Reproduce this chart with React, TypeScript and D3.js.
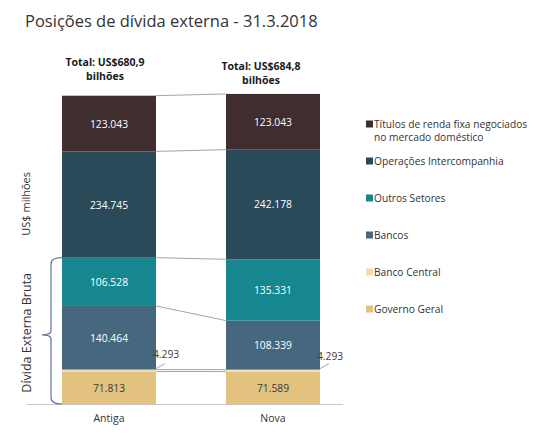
import React from "react";
import * as d3 from "d3";

const categories = ["Antiga", "Nova"];
const seriesNames = [
  "Governo Geral",
  "Banco Central",
  "Bancos",
  "Outros Setores",
  "Operações Intercompanhia",
  "Títulos de renda fixa negociados no mercado doméstico",
];
const governoGeral = [71813, 71589];
const bancoCentral = [4293, 4293];
const bancos = [140464, 108339];
const outrosSetores = [106528, 135331];
const operacoes = [234745, 242178];
const titulos = [123043, 123043];
const seriesColors = ["#e2c27e", "#f5dca8", "#47677f", "#17878f", "#2a4a5a", "#3f2d30"];
const labelColors = ["#3a3a3a", "#404040", "#ffffff", "#ffffff", "#ffffff", "#ffffff"];
const legendOrder = [5, 4, 3, 2, 1, 0];
const legendLines: string[][] = [
  ["Governo Geral"],
  ["Banco Central"],
  ["Bancos"],
  ["Outros Setores"],
  ["Operações Intercompanhia"],
  ["Títulos de renda fixa negociados", "no mercado doméstico"],
];

const FONT = "'Open Sans', sans-serif";

export default function App() {
  const seriesValues = [governoGeral, bancoCentral, bancos, outrosSetores, operacoes, titulos];
  const rows = categories.map((c, i) => {
    const r: any = { cat: c };
    seriesNames.forEach((s, k) => (r[s] = seriesValues[k][i]));
    return r;
  });
  const stack = d3.stack<any>().keys(seriesNames)(rows);

  const x = d3.scaleBand().domain(categories).range([24, 358]).paddingInner(0.427).paddingOuter(0.2318);
  const y = d3.scaleLinear().domain([0, 700000]).range([404, 87.04]);
  const bw = x.bandwidth();
  const fmt = (v: number) => d3.format(",")(v).replace(/,/g, ".");
  const fmtTotal = (v: number) => d3.format(".1f")(v / 1000).replace(".", ",");

  const x0 = x(categories[0])!;
  const x1 = x(categories[1])!;

  const braceTop = y(stack[3][0][1]);
  const braceBot = y(0);
  const braceMid = (braceTop + braceBot) / 2 + 4;
  const bx = 51;
  const bracePath = `M${x0},${braceTop} Q${bx},${braceTop} ${bx},${braceTop + 6} L${bx},${braceMid - 4} Q${bx},${braceMid} ${bx - 9},${braceMid} Q${bx},${braceMid} ${bx},${braceMid + 4} L${bx},${braceBot - 6} Q${bx},${braceBot} ${x0},${braceBot}`;

  return (
    <svg width={546} height={435} style={{ position: "absolute", left: 0, top: 0, background: "#fff" }}>
      <text x={25} y={27} fontFamily={FONT} fontSize={16.5} fill="#333">
        Posições de dívida externa - 31.3.2018
      </text>

      {stack.map((s, k) => (
        <line
          key={"c" + k}
          x1={x0 + bw}
          x2={x1}
          y1={y(s[0][1])}
          y2={y(s[1][1])}
          stroke="#a6a6a6"
          strokeWidth={1}
        />
      ))}

      {stack.map((s, k) =>
        s.map((d, i) => (
          <rect
            key={k + "-" + i}
            x={x(categories[i])}
            width={bw}
            y={y(d[1])}
            height={y(d[0]) - y(d[1])}
            fill={seriesColors[k]}
          />
        ))
      )}

      {stack.map((s, k) =>
        s.map((d, i) => {
          const v = d[1] - d[0];
          if (k === 1) {
            const lx = x(categories[i])! + bw;
            const ly = y(d[1]);
            return (
              <g key={"l" + k + i}>
                <line x1={lx} y1={ly - 1} x2={lx + 9} y2={ly - 6} stroke="#a6a6a6" />
                <text x={lx - 3} y={ly - 12 + i * 2} fontFamily={FONT} fontSize={10.3} fill="#404040">
                  {fmt(v)}
                </text>
              </g>
            );
          }
          return (
            <text
              key={"l" + k + i}
              x={x(categories[i])! + bw / 2}
              y={(y(d[0]) + y(d[1])) / 2 + 4}
              textAnchor="middle"
              fontFamily={FONT}
              fontSize={10.3}
              fill={labelColors[k]}
            >
              {fmt(v)}
            </text>
          );
        })
      )}

      {categories.map((c, i) => {
        const total = d3.sum(seriesValues, (s) => s[i]);
        const cx = x(c)! + bw / 2 - 4 - i * 8;
        const by = 66 + i * 4;
        return (
          <g key={"t" + i} fontFamily={FONT} fontSize={10.5} fontWeight="bold" fill="#1a1a1a" textAnchor="middle">
            <text x={cx} y={by}>{`Total: US$${fmtTotal(total)}`}</text>
            <text x={cx} y={by + 14}>bilhões</text>
          </g>
        );
      })}

      <line x1={27} x2={343} y1={y(0) + 0.5} y2={y(0) + 0.5} stroke="#c8c8c8" />
      {categories.map((c) => (
        <text key={c} x={x(c)! + bw / 2} y={422} textAnchor="middle" fontFamily={FONT} fontSize={10.5} fill="#333">
          {c}
        </text>
      ))}

      <text transform={`translate(30,${(y(stack[3][0][1]) + 150) / 2}) rotate(-90)`} textAnchor="middle" fontFamily={FONT} fontSize={11} fill="#333">
        US$ milhões
      </text>
      <text transform={`translate(31,${(braceTop + braceBot) / 2 + 2}) rotate(-90)`} textAnchor="middle" fontFamily={FONT} fontSize={12.5} fill="#333">
        Dívida Externa Bruta
      </text>
      <path d={bracePath} fill="none" stroke="#5a7396" strokeWidth={1.2} />

      {legendOrder.map((k, j) => {
        const ly = 124 + j * 37;
        return (
          <g key={"lg" + k}>
            <rect x={366} y={ly - 3.5} width={7} height={7} fill={seriesColors[k]} />
            {legendLines[k].map((t, m) => (
              <text key={m} x={374} y={ly + 4 + m * 13} fontFamily={FONT} fontSize={10.2} fill="#333">
                {t}
              </text>
            ))}
          </g>
        );
      })}
    </svg>
  );
}
